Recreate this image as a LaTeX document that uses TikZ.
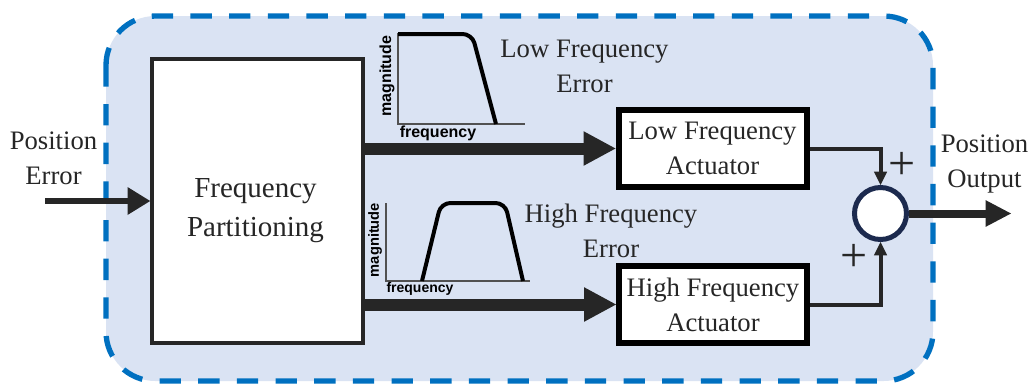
\documentclass[tikz,border=0pt]{standalone}
\usepackage{fontspec}
\setmainfont{Liberation Serif}
\setsansfont{Liberation Sans}
\usetikzlibrary{arrows.meta,positioning}
\definecolor{bgblue}{RGB}{218,227,243}
\definecolor{dashblue}{RGB}{0,112,192}
\definecolor{darkline}{RGB}{38,38,38}
\definecolor{sumnavy}{RGB}{28,42,78}
\tikzset{
    outerframe/.style={draw=dashblue, fill=bgblue, line width=4pt,
        dash pattern=on 16pt off 13pt, rounded corners=37pt},
    txt/.style={text=darkline, align=center, font=\fontsize{20}{26.25}\selectfont},
    partbox/.style={draw=darkline, fill=white, line width=3pt,
        minimum width=158pt, minimum height=213pt},
    actbox/.style={txt, draw=black, fill=white, line width=4.5pt,
        minimum width=141pt, minimum height=58pt, inner sep=0pt},
    sumnode/.style={circle, draw=sumnavy, fill=white, line width=3.75pt,
        minimum size=39pt, inner sep=0pt},
    bigarrow/.style={draw=darkline, line width=9pt,
        -{Triangle[length=24pt,width=26pt,line width=0pt]}},
    inarrow/.style={draw=darkline, line width=5pt,
        -{Triangle[length=17pt,width=21pt,line width=0pt]}},
    outarrow/.style={draw=darkline, line width=6pt,
        -{Triangle[length=19pt,width=20pt,line width=0pt]}},
    signal/.style={draw=darkline, line width=3pt,
        -{Triangle[length=10pt,width=10pt,line width=0pt]}},
    plus/.style={text=darkline, inner sep=0pt, font=\fontsize{36}{36}\selectfont},
    plotaxis/.style={draw=darkline!80, line width=1.1pt},
    plotcurve/.style={draw=black, line width=3pt, rounded corners=7pt},
    axlabel/.style={text=black, inner sep=0pt, font=\sffamily\bfseries\fontsize{12}{12}\selectfont}
}
\begin{document}
\begin{tikzpicture}[x=0.75pt, y=-0.75pt]
    \useasboundingbox (0,0) rectangle (1029,383);
    \draw[outerframe] (106,16) rectangle (933,381);

    % blocks
    \node[partbox] (part) at (257.5,201) {};
    \node[txt, font=\fontsize{21.75}{29.25}\selectfont] (parttext) at (255.5,211) {Frequency\\Partitioning};
    \node[actbox] (lfa) at (712.5,148.5) {Low Frequency\\Actuator};
    \node[actbox] (hfa) at (713,304.5) {High Frequency\\Actuator};
    \node[sumnode] (sum) at (880.5,213.5) {};

    % signals
    \coordinate (in) at (45,201);
    \coordinate (out) at (1011,213.5);
    \node[txt] (inlabel) at (53.5,158.7) {Position\\Error};
    \node[txt] (outlabel) at (984.5,163.7) {Position\\Output};
    \draw[inarrow] (in) -- (part.west);
    \draw[bigarrow] (part.east |- lfa.west) -- (lfa.west);
    \draw[bigarrow] (part.east |- hfa.west) -- (hfa.west);
    \draw[signal] (lfa.east) -| (sum.north);
    \draw[signal] (hfa.east) -| (sum.south);
    \draw[outarrow] (sum.east) -- (out);
    \node[plus] (plusa) at (902,166) {+};
    \node[plus] (plusb) at (854,258) {+};

    % error labels
    \node[txt] (lowerr) at (584.5,66.7) {Low Frequency\\Error};
    \node[txt] (higherr) at (611,230.5) {High Frequency\\Error};

    % low-pass sketch
    \draw[plotaxis] (398,33) -- (398,124) -- (525,124);
    \draw[plotcurve] (398,34) -- (472,34) -- (496,124);
    \node[axlabel, rotate=90] (lowmag) at (387,76) {magnitude};
    \node[axlabel] (lowfreq) at (438,133) {frequency};

    % band-pass sketch
    \draw[plotaxis] (386,203) -- (386,281) -- (530,281);
    \draw[plotcurve] (422,281) -- (441,203) -- (505,203) -- (523,281);
    \node[axlabel, font=\sffamily\bfseries\fontsize{11}{11}\selectfont, rotate=90] (highmag) at (375,240) {magnitude};
    \node[axlabel, font=\sffamily\bfseries\fontsize{10.5}{10.5}\selectfont] (highfreq) at (420,289) {frequency};
\end{tikzpicture}
\end{document}
